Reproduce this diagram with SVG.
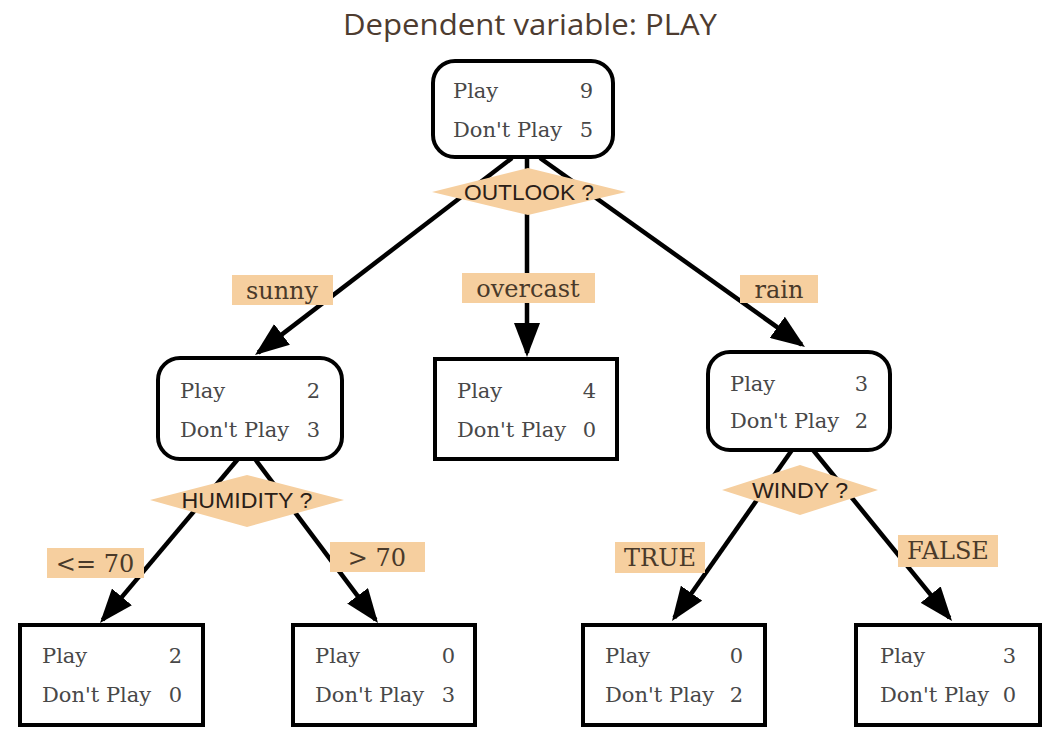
<svg xmlns="http://www.w3.org/2000/svg" width="1062" height="742" viewBox="0 0 1062 742">
<style>
.node{fill:#fff;stroke:#000;stroke-width:4}
.nt{font-family:"DejaVu Serif","Liberation Serif",serif;font-size:21px;fill:#484848}
.num{text-anchor:end}
.dia{fill:#f6cf9f;stroke:none}
.dt{font-family:"Liberation Sans",Arial,sans-serif;font-size:22px;fill:#2a2018;text-anchor:middle}
.lab{fill:#f6cf9f}
.lt{font-family:"DejaVu Serif","Liberation Serif",serif;font-size:24px;fill:#4a3a2a;text-anchor:middle}
.edge{stroke:#000;stroke-width:4.5;fill:none;marker-end:url(#ah)}
.title{font-family:"Open Sans","Noto Sans",sans-serif;font-size:30px;fill:#4e3c30;text-anchor:middle}
</style>
<defs>
<marker id="ah" markerUnits="userSpaceOnUse" markerWidth="34" markerHeight="26" refX="30" refY="13" orient="auto">
<path d="M0,0 L34,13 L0,26 z" fill="#000"/>
</marker>
</defs>
<rect width="1062" height="742" fill="#fff"/>
<text class="title" x="530" y="35" textLength="374" lengthAdjust="spacingAndGlyphs">Dependent variable: PLAY</text>

<g id="connectors">
<line class="edge" x1="512" y1="158" x2="258.2" y2="352.6"/>
<line class="edge" x1="527" y1="158" x2="527" y2="353"/>
<line class="edge" x1="540" y1="158" x2="801.7" y2="344.7"/>
<line class="edge" x1="238" y1="459" x2="102.6" y2="619.9"/>
<line class="edge" x1="255" y1="459" x2="375.6" y2="619.8"/>
<line class="edge" x1="792" y1="450" x2="674.3" y2="617.7"/>
<line class="edge" x1="813" y1="450" x2="949.5" y2="617.9"/>
</g>

<g id="root">
<rect class="node" x="433" y="61" width="180" height="96" rx="22"/>
<text class="nt" x="453" y="98">Play</text><text class="nt num" x="593" y="98">9</text>
<text class="nt" x="453" y="137">Don't Play</text><text class="nt num" x="593" y="137">5</text>
</g>
<g id="q-outlook">
<polygon class="dia" points="432,192 528,168 626,192 528,215"/>
<text class="dt" x="529" y="200" textLength="130" lengthAdjust="spacingAndGlyphs">OUTLOOK ?</text>
</g>

<g id="sunny-node">
<rect class="node" x="158" y="358" width="184" height="101" rx="22"/>
<text class="nt" x="180" y="398">Play</text><text class="nt num" x="320" y="398">2</text>
<text class="nt" x="180" y="437">Don't Play</text><text class="nt num" x="320" y="437">3</text>
</g>
<g id="q-humidity">
<polygon class="dia" points="150,500 247,475 344,500 247,527"/>
<text class="dt" x="247" y="508" textLength="131" lengthAdjust="spacingAndGlyphs">HUMIDITY ?</text>
</g>

<g id="overcast-node">
<rect class="node" x="435" y="359" width="182" height="100"/>
<text class="nt" x="457" y="398">Play</text><text class="nt num" x="596" y="398">4</text>
<text class="nt" x="457" y="437">Don't Play</text><text class="nt num" x="596" y="437">0</text>
</g>

<g id="rain-node">
<rect class="node" x="708" y="352" width="182" height="98" rx="22"/>
<text class="nt" x="730" y="391">Play</text><text class="nt num" x="868" y="391">3</text>
<text class="nt" x="730" y="428">Don't Play</text><text class="nt num" x="868" y="428">2</text>
</g>
<g id="q-windy">
<polygon class="dia" points="722,490 800,465 878,490 800,515"/>
<text class="dt" x="800" y="498" textLength="96" lengthAdjust="spacingAndGlyphs">WINDY ?</text>
</g>

<g id="leaf-le70">
<rect class="node" x="20" y="625" width="183" height="100"/>
<text class="nt" x="42" y="663">Play</text><text class="nt num" x="182" y="663">2</text>
<text class="nt" x="42" y="702">Don't Play</text><text class="nt num" x="182" y="702">0</text>
</g>
<g id="leaf-gt70">
<rect class="node" x="293" y="625" width="182" height="100"/>
<text class="nt" x="315" y="663">Play</text><text class="nt num" x="455" y="663">0</text>
<text class="nt" x="315" y="702">Don't Play</text><text class="nt num" x="455" y="702">3</text>
</g>
<g id="leaf-true">
<rect class="node" x="583" y="625" width="182" height="100"/>
<text class="nt" x="605" y="663">Play</text><text class="nt num" x="743" y="663">0</text>
<text class="nt" x="605" y="702">Don't Play</text><text class="nt num" x="743" y="702">2</text>
</g>
<g id="leaf-false">
<rect class="node" x="856" y="625" width="184" height="100"/>
<text class="nt" x="880" y="663">Play</text><text class="nt num" x="1016" y="663">3</text>
<text class="nt" x="880" y="702">Don't Play</text><text class="nt num" x="1016" y="702">0</text>
</g>

<g id="edge-labels">
<rect class="lab" x="232" y="275" width="101" height="30"/><text class="lt" x="282" y="299">sunny</text>
<rect class="lab" x="462" y="273" width="133" height="30"/><text class="lt" x="528" y="297">overcast</text>
<rect class="lab" x="740" y="275" width="78" height="28"/><text class="lt" x="779" y="298">rain</text>
<rect class="lab" x="47" y="548" width="97" height="30"/><text class="lt" x="95" y="572">&lt;= 70</text>
<rect class="lab" x="330" y="542" width="95" height="30"/><text class="lt" x="377" y="566">&gt; 70</text>
<rect class="lab" x="615" y="542" width="90" height="31"/><text class="lt" x="660" y="566">TRUE</text>
<rect class="lab" x="898" y="535" width="100" height="32"/><text class="lt" x="948" y="559">FALSE</text>
</g>
</svg>
